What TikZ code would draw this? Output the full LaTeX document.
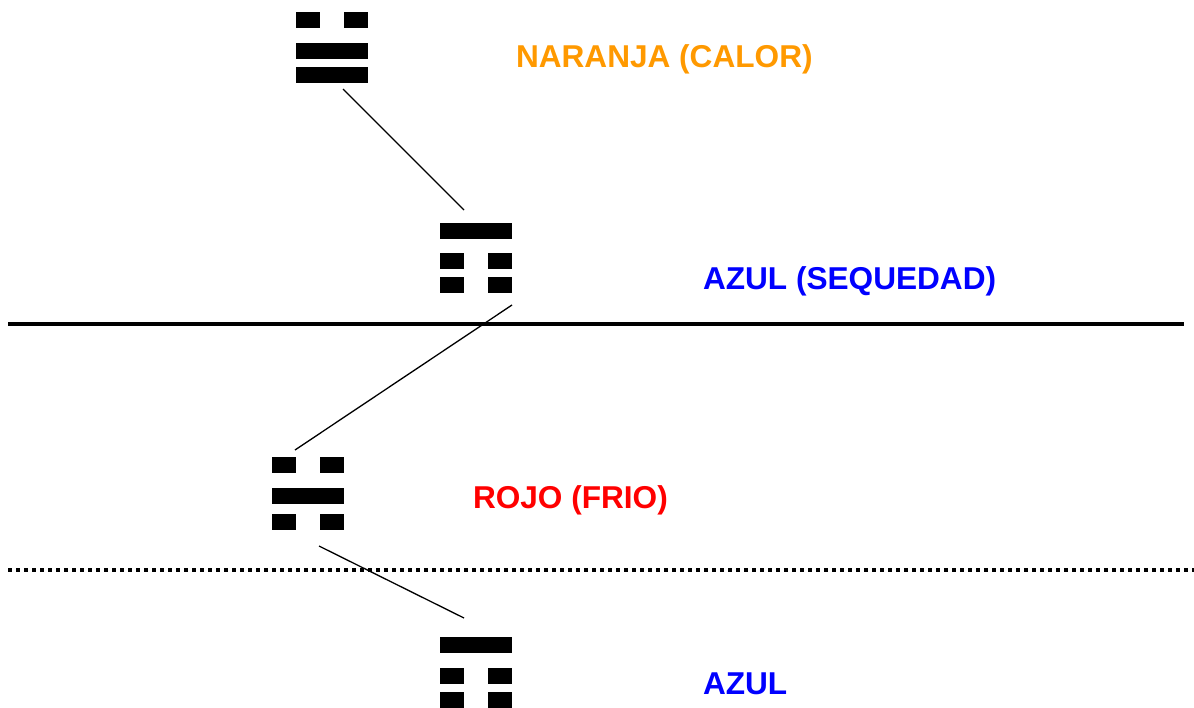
\documentclass[tikz,border=0pt]{standalone}
\usepackage{fontspec}
\setmainfont{Liberation Sans}
\usepackage{tikz}
\usetikzlibrary{positioning}
\definecolor{naranja}{RGB}{255,153,0}
\definecolor{azul}{RGB}{0,0,255}
\definecolor{rojo}{RGB}{255,0,0}
\tikzset{etiqueta/.style={font=\fontsize{31.6}{38}\selectfont\bfseries, inner sep=0pt, outer sep=0pt, anchor=base west},
	enlace/.style={line width=1.3pt}}

\begin{document}
\begin{tikzpicture}[x=1pt, y=-1pt]
\newcommand{\yang}[2]{\fill (#1,#2) rectangle ++(72,16);}
\newcommand{\yin}[2]{\fill (#1,#2) rectangle ++(24,16); \fill (#1+48,#2) rectangle ++(24,16);}
	\useasboundingbox (0,0) rectangle (1194,707);
	%Trigramas
	\yin{296}{12}  \yang{296}{43}  \yang{296}{67}
	\yang{440}{223} \yin{440}{253} \yin{440}{277}
	\yin{272}{457} \yang{272}{488} \yin{272}{514}
	\yang{440}{637} \yin{440}{668} \yin{440}{692}
	%Lineas
	\draw[line width=3.5pt] (8,324) -- (1184,324);
	\draw[line width=4pt, dash pattern=on 4pt off 4pt] (8,570) -- (1194,570);
	%Enlaces
	\coordinate (a1) at (343,89);
	\coordinate (a2) at (464,210);
	\coordinate (b1) at (512,305);
	\coordinate (b2) at (295,450);
	\coordinate (c1) at (319,546);
	\coordinate (c2) at (464,618);
	\draw[enlace] (a1) -- (a2);
	\draw[enlace] (b1) -- (b2);
	\draw[enlace] (c1) -- (c2);
	%Etiquetas
	\node[etiqueta, text=naranja] (calor) at (516,67) {NARANJA (CALOR)};
	\node[etiqueta, text=azul] (sequedad) at (703,289) {AZUL (SEQUEDAD)};
	\node[etiqueta, text=rojo] (frio) at (473,508) {ROJO (FRIO)};
	\node[etiqueta, text=azul] (azul) at (703,694) {AZUL};
\end{tikzpicture}
\end{document}
